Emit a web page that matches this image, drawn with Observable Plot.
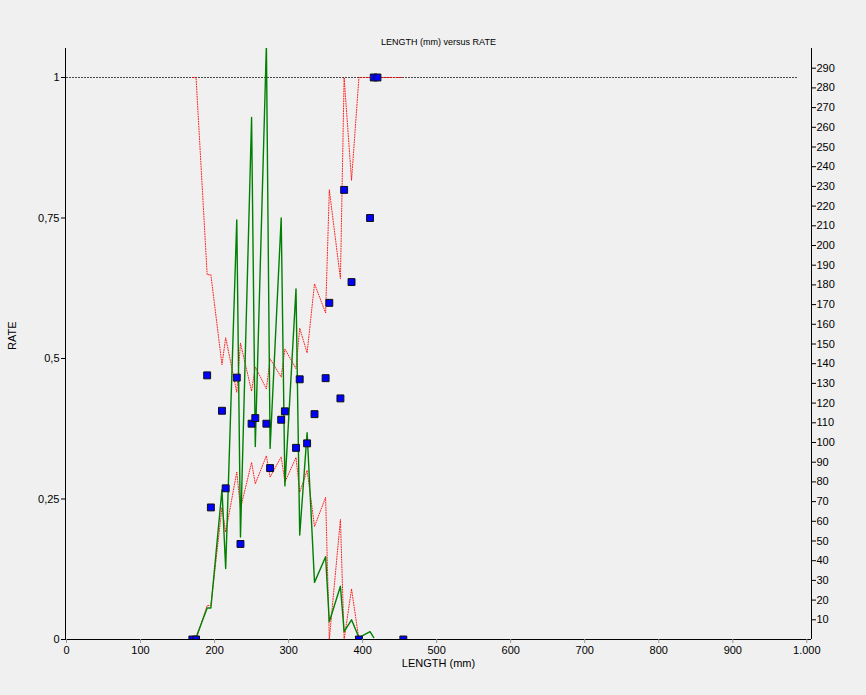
<!DOCTYPE html>
<html><head><meta charset="utf-8">
<script src="https://cdn.jsdelivr.net/npm/d3@7"></script>
<script src="https://cdn.jsdelivr.net/npm/@observablehq/plot@0.6"></script>
<style>
html,body{margin:0;padding:0;background:#f0f0f0;}
#chart svg{display:block;}
</style></head><body><div id="chart"></div>
<script>
// Length classes (mm) and number of fish (right axis)
const lengths = [170,175,190,195,210,215,230,235,250,255,270,275,290,295,310,315,325,335,350,355,370,375,385,395,410,415];
const counts  = [0,1,16,16,76,36,213,52,265,98,302,97,214,78,178,53,105,29,42,9,27,4,10,1,4,1];

// Observed retention rate (blue squares, left axis)
const rateLengths = [170,175,190,195,210,215,230,235,250,255,270,275,290,295,310,315,325,335,350,355,370,375,385,395,410,415,420,455];
const rates = [0,0,0.47,0.235,0.407,0.269,0.466,0.17,0.384,0.394,0.384,0.305,0.391,0.406,0.341,0.463,0.349,0.401,0.465,0.599,0.429,0.8,0.636,0,0.75,1,1,0];

// Confidence limits (red dotted lines)
const ciLengths = [170,175,190,195,210,215,230,235,250,255,270,275,290,295,310,315,325,335,350,355,370,375,385,395,410,415,420,455];
const upper = [1,1,0.649,0.649,0.489,0.537,0.44,0.527,0.442,0.485,0.446,0.4995,0.467,0.517,0.482,0.554,0.51,0.633,0.581,0.80,0.642,1,0.817,1,1,1,1,1];
const lower = [0,0,0.0605,0.0605,0.235,0.191,0.298,0.233,0.315,0.277,0.327,0.289,0.325,0.28,0.324,0.262,0.301,0.201,0.253,0,0.2135,0,0.09,0,0,0,0,0];

// Reference line at rate = 1
const refX = [0, 988];
const refY = [1, 1];

// Ticks
const xTicks = [0,100,200,300,400,500,600,700,800,900,1000];
const leftTicks = [0,0.25,0.5,0.75,1];
const rightTicks = [10,20,30,40,50,60,70,80,90,100,110,120,130,140,150,160,170,180,190,200,210,220,230,240,250,260,270,280,290];

const titleText = "LENGTH (mm) versus RATE";
const xLabel = "LENGTH (mm)";
const yLabel = "RATE";

const yMax = 1.0516;
const rightMax = 300;
const K = yMax / rightMax;

const locale = d3.formatLocale({decimal: ",", thousands: ".", grouping: [3], currency: ["", ""]});
const fmtX = locale.format(",");
const fmtRate = d => String(d).replace(".", ",");

const countData = lengths.map((l, i) => ({x: l, y: counts[i] * K}));
const rateData = rateLengths.map((l, i) => ({x: l, y: rates[i]}));
const upperData = ciLengths.map((l, i) => ({x: l, y: upper[i]}));
const lowerData = ciLengths.map((l, i) => ({x: l, y: lower[i]}));
const refData = refX.map((l, i) => ({x: l, y: refY[i]}));

const xMin = -1.35, xMax = 1006.3;

const plot = Plot.plot({
  width: 866,
  height: 695,
  marginTop: 48,
  marginBottom: 56,
  marginLeft: 65,
  marginRight: 55,
  style: {background: "#f0f0f0", fontFamily: "'Liberation Sans', Arial, sans-serif", fontSize: "11px", color: "#000", overflow: "visible"},
  x: {domain: [xMin, xMax]},
  y: {domain: [0, yMax]},
  marks: [
    Plot.line(refData, {x: "x", y: "y", stroke: "#333", strokeWidth: 1, strokeDasharray: "1,2"}),
    Plot.line(upperData, {x: "x", y: "y", stroke: "#ff0000", strokeWidth: 1, strokeDasharray: "1,1.5", strokeOpacity: 0.85}),
    Plot.line(lowerData, {x: "x", y: "y", stroke: "#ff0000", strokeWidth: 1, strokeDasharray: "1,1.5", strokeOpacity: 0.85}),
    Plot.line(countData, {x: "x", y: "y", stroke: "#008000", strokeWidth: 1.4, clip: true}),
    Plot.dot(rateData, {x: "x", y: "y", symbol: "square", r: 3.9, fill: "#0000ff", stroke: "#111", strokeWidth: 1, clip: true}),
    Plot.ruleX([xMin], {stroke: "#000", strokeWidth: 1}),
    Plot.ruleX([xMax], {stroke: "#000", strokeWidth: 1}),
    Plot.ruleY([0], {stroke: "#000", strokeWidth: 1}),
    Plot.axisX({ticks: xTicks, tickFormat: fmtX, tickSize: 4, tickPadding: 3, label: null, stroke: "#999", fill: "#000"}),
    Plot.axisY({anchor: "left", ticks: leftTicks, tickFormat: fmtRate, tickSize: 4, tickPadding: 2, label: null}),
    Plot.axisY({anchor: "right", ticks: rightTicks.map(t => t * K), tickFormat: d => String(Math.round(d / K)), tickSize: 4, tickPadding: 1, label: null}),
    Plot.text([titleText], {text: d => d, frameAnchor: "top", dy: -10, fontSize: 9}),
    Plot.text([xLabel], {text: d => d, frameAnchor: "bottom", dy: 27, fontSize: 11}),
    Plot.text([yLabel], {text: d => d, frameAnchor: "left", rotate: -90, dx: -53, dy: 6, fontSize: 11})
  ]
});
document.getElementById("chart").appendChild(plot);
</script>
</body></html>
